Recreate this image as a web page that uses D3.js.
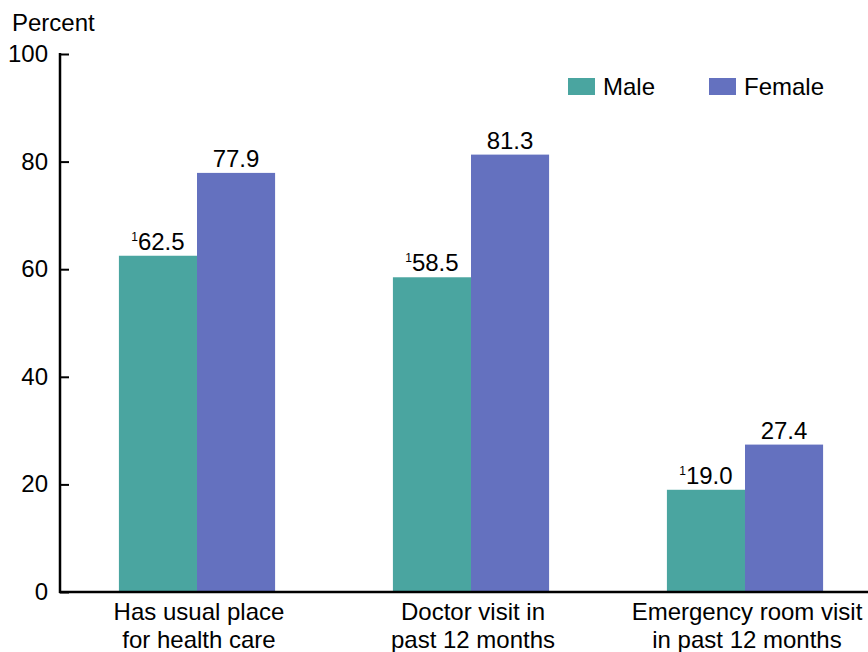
<!DOCTYPE html>
<html><head><meta charset="utf-8">
<script src="https://cdn.jsdelivr.net/npm/d3@7"></script>
<style>body{margin:0;background:#fff}svg{display:block;font-family:"Liberation Sans",Arial,sans-serif}</style>
</head><body>
<svg id="c" width="868" height="652"></svg>
<script>
const categories = [["Has usual place","for health care"],["Doctor visit in","past 12 months"],["Emergency room visit","in past 12 months"]];
const series = ["Male","Female"];
const maleValues = [62.5, 58.5, 19.0];
const femaleValues = [77.9, 81.3, 27.4];
const maleFootnote = ["1","1","1"];
const yTicks = [0,20,40,60,80,100];
const colors = {Male:"#4aa5a0", Female:"#6471bf"};

const FS = 24;
const svg = d3.select("#c");
const y = d3.scaleLinear().domain([0,100]).range([592,54]);
const x0 = d3.scaleBand().domain(d3.range(categories.length)).range([60,882]).paddingInner(0.43).paddingOuter(0.215);
const x1 = d3.scaleBand().domain(series).range([0,x0.bandwidth()]);

const data = categories.map((c,i)=>({i, vals:[{s:"Male",v:maleValues[i],fn:maleFootnote[i]},{s:"Female",v:femaleValues[i],fn:""}]}));

const g = svg.selectAll("g.grp").data(data).enter().append("g").attr("transform",d=>`translate(${x0(d.i)},0)`);
g.selectAll("rect").data(d=>d.vals).enter().append("rect")
  .attr("x",d=>x1(d.s)).attr("width",x1.bandwidth())
  .attr("y",d=>y(d.v)).attr("height",d=>y(0)-y(d.v))
  .attr("fill",d=>colors[d.s]);
const lab = g.selectAll("text.val").data(d=>d.vals).enter().append("text")
  .attr("class","val").attr("x",d=>x1(d.s)+x1.bandwidth()/2).attr("y",d=>y(d.v)-6)
  .attr("text-anchor","middle").attr("font-size",FS).attr("fill","#000");
lab.each(function(d){
  const t=d3.select(this);
  if(d.fn){t.append("tspan").attr("font-size",12).attr("dy",-9).text(d.fn);
    t.append("tspan").attr("dy",9).text(d.v.toFixed(1));}
  else t.text(d.v.toFixed(1));
});

// y axis
const yAxis = d3.axisRight(y).tickValues(yTicks).tickSize(9).tickFormat("");
const ya = svg.append("g").attr("transform","translate(60,0)").call(yAxis);
ya.select(".domain").remove();
ya.selectAll("line").attr("stroke","#000").attr("stroke-width",2);
svg.append("line").attr("x1",60).attr("x2",60).attr("y1",53).attr("y2",593).attr("stroke","#000").attr("stroke-width",2.5);
svg.selectAll("text.yt").data(yTicks).enter().append("text").attr("class","yt")
  .attr("x",48).attr("y",d=>y(d)+8).attr("text-anchor","end").attr("font-size",FS).text(d=>d);
svg.append("text").attr("x",12).attr("y",31).attr("font-size",FS).text("Percent");

// x axis
svg.append("line").attr("x1",59).attr("x2",868).attr("y1",y(0)).attr("y2",y(0)).attr("stroke","#000").attr("stroke-width",2.5);
const xl = svg.selectAll("text.xl").data(categories).enter().append("text").attr("class","xl")
  .attr("x",(d,i)=>x0(i)+x0.bandwidth()/2+2).attr("y",620).attr("text-anchor","middle").attr("font-size",FS);
xl.selectAll("tspan").data(d=>d).enter().append("tspan")
  .attr("x",function(){return this.parentNode.getAttribute("x");})
  .attr("dy",(d,i)=>i?28:0).text(d=>d);

// legend
const legX = [568,709];
const lg = svg.selectAll("g.leg").data(series).enter().append("g").attr("transform",(d,i)=>`translate(${legX[i]},78)`);
lg.append("rect").attr("width",27).attr("height",17).attr("fill",d=>colors[d]);
lg.append("text").attr("x",35).attr("y",17).attr("font-size",FS).text(d=>d);
</script>
</body></html>
